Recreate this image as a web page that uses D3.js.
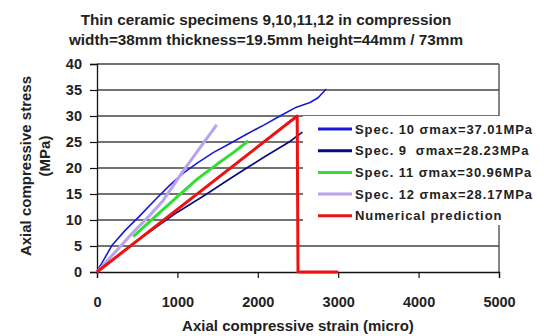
<!DOCTYPE html>
<html><head><meta charset="utf-8">
<script src="https://cdn.jsdelivr.net/npm/d3@7"></script>
<style>body{margin:0;background:#fff}svg{display:block}text{font-family:"Liberation Sans",Arial,sans-serif;font-weight:bold;fill:#222}</style>
</head><body><svg id="c" width="544" height="336"></svg>
<script>
const titleLines = ["Thin ceramic specimens 9,10,11,12 in compression", "width=38mm thickness=19.5mm height=44mm / 73mm"];
const xTicks = [0, 1000, 2000, 3000, 4000, 5000];
const yTicks = [0, 5, 10, 15, 20, 25, 30, 35, 40];
const xTitle = "Axial compressive strain (micro)";
const yTitle = ["Axial compressive stress", "(MPa)"];
const seriesNames = ["Spec. 10 σmax=37.01MPa", "Spec. 9  σmax=28.23MPa", "Spec. 11 σmax=30.96MPa", "Spec. 12 σmax=28.17MPa", "Numerical prediction"];
const seriesColors = ["#1a1ad0", "#0a0a78", "#33dd33", "#b9a2ee", "#ee1111"];
const spec10 = [[0,0.2],[60,1.7],[190,5.2],[350,8.0],[520,10.6],[730,14.0],[900,16.6],[1073,19.0],[1250,21.0],[1450,23.0],[1654,24.7],[1860,26.5],[2080,28.3],[2276,30.0],[2480,31.7],[2650,32.6],[2750,33.5],[2850,35.2]];
const spec9 = [[0,0],[250,3.0],[500,6.0],[750,8.8],[1000,11.5],[1364,15.0],[1600,17.4],[1862,20.0],[2100,22.3],[2390,25.0],[2555,26.9]];
const spec11 = [[450,6.8],[700,10.3],[1000,14.5],[1250,17.9],[1500,20.8],[1700,23.0],[1880,25.2]];
const spec12 = [[0,0],[190,3.2],[435,7.4],[645,10.7],[810,13.5],[1075,19.5],[1300,24.3],[1488,28.3]];
const numerical = [[0,0],[2490,30.0],[2500,0],[3000,0]];
const seriesData = [spec10, spec9, spec11, spec12, numerical];
const seriesWidths = [1.6, 1.6, 3, 3, 3];

const svg = d3.select("#c");
const x = d3.scaleLinear().domain([0, 5000]).range([97, 499]);
const y = d3.scaleLinear().domain([0, 40]).range([272, 64]);

svg.selectAll("text.title").data(titleLines).join("text")
  .attr("x", 266).attr("y", (d,i)=>25 + i*20).attr("text-anchor","middle")
  .style("font-size","15.3px").text(d=>d);

// grid
svg.append("g").selectAll("line").data(yTicks.slice(1)).join("line")
  .attr("x1", x(0)).attr("x2", x(5000)).attr("y1", d=>y(d)).attr("y2", d=>y(d))
  .attr("stroke","#444").attr("stroke-width",1.3);
svg.append("line").attr("x1",x(5000)).attr("x2",x(5000)).attr("y1",y(40)).attr("y2",y(0)).attr("stroke","#444").attr("stroke-width",1.3);

// axes
const xa = svg.append("g").attr("transform",`translate(0,${y(0)})`)
  .call(d3.axisBottom(x).tickValues(xTicks).tickSize(6).tickPadding(19).tickFormat(d3.format("d")));
const ya = svg.append("g").attr("transform",`translate(${x(0)},0)`)
  .call(d3.axisLeft(y).tickValues(yTicks).tickSize(7).tickPadding(8).tickFormat(d3.format("d")));
[xa, ya].forEach(a=>{
  a.select(".domain").attr("stroke","#111").attr("stroke-width",1.3);
  a.selectAll(".tick line").attr("stroke","#111").attr("stroke-width",1.2);
  a.selectAll(".tick text").style("font-size","14.5px").style("font-family",'"Liberation Sans",Arial,sans-serif').style("font-weight","bold").attr("fill","#222");
});

// lines
const line = d3.line().x(d=>x(d[0])).y(d=>y(d[1]));
svg.append("g").selectAll("path").data(seriesData).join("path")
  .attr("d", line).attr("fill","none")
  .attr("stroke",(d,i)=>seriesColors[i]).attr("stroke-width",(d,i)=>seriesWidths[i])
  .attr("stroke-linejoin","round");

// legend
const lg = svg.append("g");
lg.append("rect").attr("x",303).attr("y",116).attr("width",239).attr("height",109).attr("fill","#fff");
const items = lg.selectAll("g").data(seriesNames).join("g")
  .attr("transform",(d,i)=>`translate(318,${129 + i*21.7})`);
items.append("line").attr("x1",0).attr("x2",34).attr("stroke",(d,i)=>seriesColors[i]).attr("stroke-width",3);
items.append("text").attr("x",37).attr("y",4.5).style("font-size","13px").style("letter-spacing","0.9px").style("white-space","pre").text(d=>d);

// axis titles
svg.append("text").attr("x",298).attr("y",331).attr("text-anchor","middle").style("font-size","15px").text(xTitle);
svg.append("text").attr("transform","translate(25,166) rotate(-90)").attr("text-anchor","middle").attr("dominant-baseline","central").style("font-size","15px").text(yTitle[0]);
svg.append("text").attr("transform","translate(44,156) rotate(-90)").attr("text-anchor","middle").attr("dominant-baseline","central").style("font-size","15px").text(yTitle[1]);
</script></body></html>
